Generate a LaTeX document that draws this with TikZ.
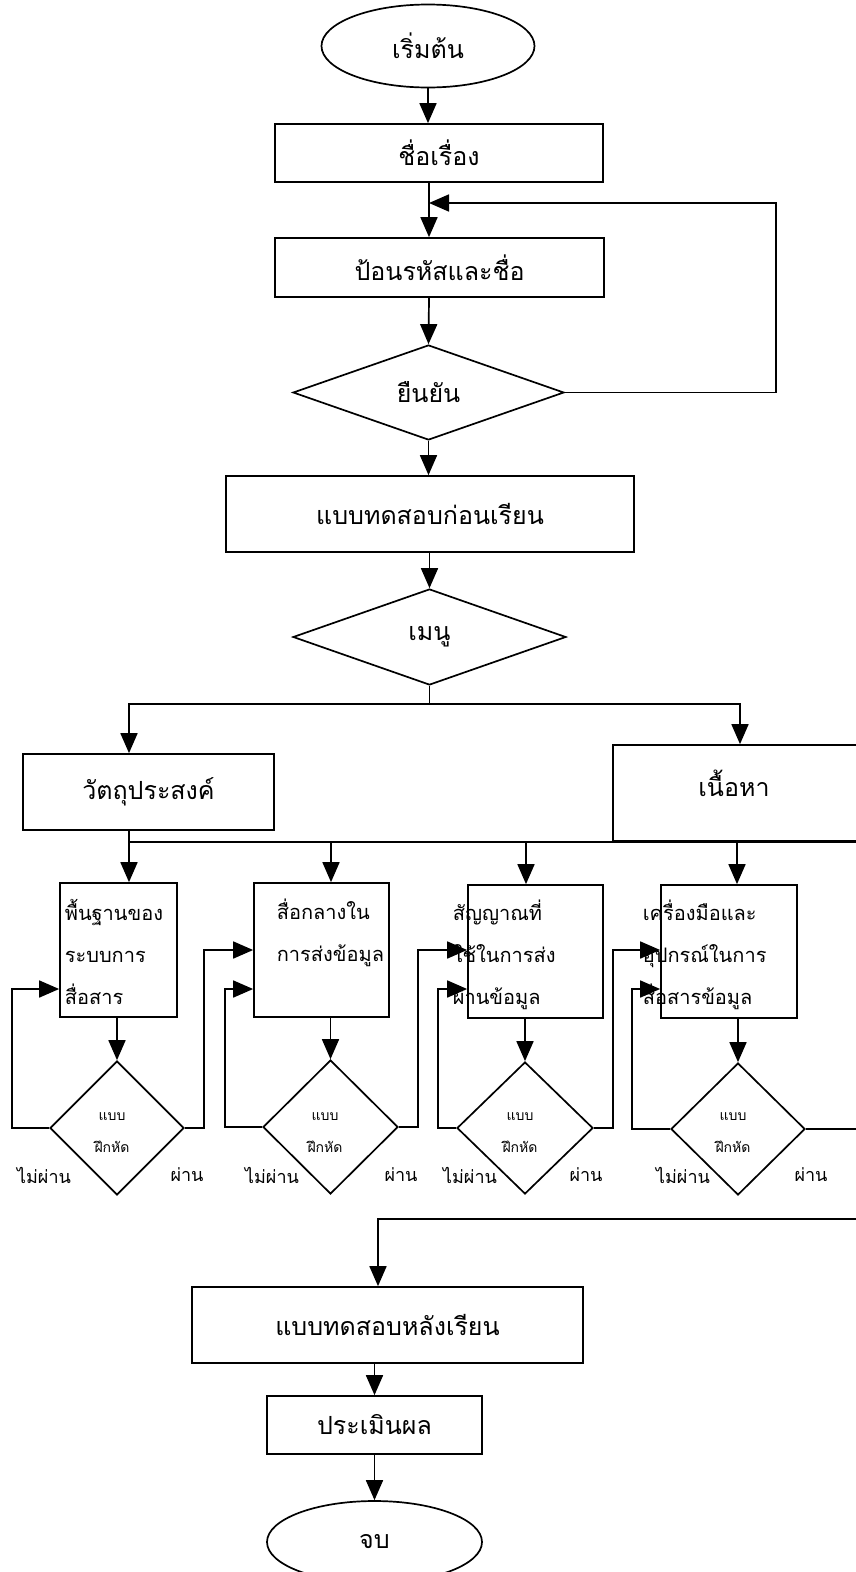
\documentclass[tikz,border=0pt]{standalone}
\usepackage{fontspec}
\newfontfamily\thai[Script=Thai]{Loma}
\usetikzlibrary{arrows.meta,shapes.geometric}

\begin{document}
\begin{tikzpicture}[x=1pt,y=-1pt,
  line width=1.7pt,
  arr/.style={-{Triangle[length=20pt,width=17pt]}},
  proc/.style={draw, rectangle, inner sep=0pt},
  term/.style={draw, ellipse, inner sep=0pt},
  dec/.style={draw, diamond, inner sep=0pt},
  big/.style={font=\thai\fontsize{25}{29}\selectfont},
  unit/.style={font=\thai\fontsize{20}{42}\selectfont, inner sep=0pt, align=left, anchor=base west},
  quiz/.style={font=\thai\fontsize{14}{32}\selectfont, align=center},
  verdict/.style={font=\thai\fontsize{18}{20}\selectfont, inner sep=0pt}]

\useasboundingbox (0,0) rectangle (856,1572);
\clip (0,0) rectangle (856,1572);
\fill[white] (0,0) rectangle (856,1572);

% main column
\node[term, minimum width=213pt, minimum height=83pt, big] (start) at (428,46) {เริ่มต้น};
\node[proc, minimum width=328pt, minimum height=58pt, big] (title) at (439,153) {ชื่อเรื่อง};
\node[proc, minimum width=329pt, minimum height=59pt, big] (login) at (439.5,267.5) {ป้อนรหัสและชื่อ};
\node[dec, minimum width=271pt, minimum height=95pt, big] (confirm) at (428.5,392.5) {ยืนยัน};
\node[proc, minimum width=408pt, minimum height=76pt, big] (pretest) at (430,514) {แบบทดสอบก่อนเรียน};
\node[dec, minimum width=273pt, minimum height=96pt, big] (menu) at (429.5,637) {เมนู};

% menu branches
\node[proc, minimum width=251pt, minimum height=76pt, big] (obj) at (148.5,792) {วัตถุประสงค์};
\node[proc, minimum width=260pt, minimum height=96pt] (content) at (743,793) {};
\node[big] (contentlbl) at (734,783) {เนื้อหา};

% lesson units
\node[proc, minimum width=117pt, minimum height=134pt] (u1) at (118.5,950) {};
\node[proc, minimum width=135pt, minimum height=134pt] (u2) at (321.5,950) {};
\node[proc, minimum width=135pt, minimum height=133pt] (u3) at (535.5,951.5) {};
\node[proc, minimum width=136pt, minimum height=133pt] (u4) at (729,951.5) {};

% exercises
\node[dec, minimum width=134pt, minimum height=134pt] (q1) at (117,1128) {};
\node[dec, minimum width=135pt, minimum height=134pt] (q2) at (330.5,1127) {};
\node[dec, minimum width=136pt, minimum height=132pt] (q3) at (525,1128) {};
\node[dec, minimum width=134pt, minimum height=132pt] (q4) at (738,1129) {};
\node[quiz] (q1t) at (112,1133) {แบบ\\ฝึกหัด};
\node[quiz] (q2t) at (325,1133) {แบบ\\ฝึกหัด};
\node[quiz] (q3t) at (520,1133) {แบบ\\ฝึกหัด};
\node[quiz] (q4t) at (733,1133) {แบบ\\ฝึกหัด};

% closing column
\node[proc, minimum width=391pt, minimum height=76pt, big] (post) at (387.5,1325) {แบบทดสอบหลังเรียน};
\node[proc, minimum width=215pt, minimum height=58pt, big] (assess) at (374.5,1425) {ประเมินผล};
\node[term, minimum width=215pt, minimum height=82pt, big] (finish) at (374.5,1542) {จบ};

% unit titles (base anchor sits on the last line)
\node[unit] (u1t) at (64,1004) {พื้นฐานของ\\ระบบการ\\สื่อสาร};
\node[unit] (u2t) at (276,961) {สื่อกลางใน\\การส่งข้อมูล};
\node[unit] (u3t) at (452,1004) {สัญญาณที่\\ใช้ในการส่ง\\ผ่านข้อมูล};
\node[unit] (u4t) at (642,1004) {เครื่องมือและ\\อุปกรณ์ในการ\\สื่อสารข้อมูล};

% verdict labels
\node[verdict] (f1) at (44,1175) {ไม่ผ่าน};
\node[verdict] (p1) at (187,1175) {ผ่าน};
\node[verdict] (f2) at (272,1175) {ไม่ผ่าน};
\node[verdict] (p2) at (401,1175) {ผ่าน};
\node[verdict] (f3) at (470,1175) {ไม่ผ่าน};
\node[verdict] (p3) at (586,1175) {ผ่าน};
\node[verdict] (f4) at (683,1175) {ไม่ผ่าน};
\node[verdict] (p4) at (811,1175) {ผ่าน};

% helper points
\coordinate (axis) at (429,0);
\coordinate (fb) at (429,203);
\coordinate (fbr) at (776,203);
\coordinate (brL) at (129,704);
\coordinate (brR) at (740,704);
\coordinate (sbL) at (129,842);
\coordinate (sbR) at (870,842);
\coordinate (a2) at (331,842);
\coordinate (a3) at (526,842);
\coordinate (a4) at (737,842);
\coordinate (L1) at (12,989);
\coordinate (L2) at (225,989);
\coordinate (L3) at (438,989);
\coordinate (L4) at (632,989);
\coordinate (P1) at (204,950);
\coordinate (P2) at (418,950);
\coordinate (P3) at (613,950);
\coordinate (out4) at (870,1129);
\coordinate (retR) at (870,1219);
\coordinate (retJ) at (378,1219);

% main flow
\draw[arr] (start.south) -- (start.south |- title.north);
\draw[arr] (axis |- title.south) -- (axis |- login.north);
\draw[arr] (axis |- login.south) -- (confirm.north);
\draw[arr] (confirm.east) -| (fbr) -- (fb);
\draw[arr] (confirm.south) -- (confirm.south |- pretest.north);
\draw[arr] (menu.north |- pretest.south) -- (menu.north);

% menu split
\draw (menu.south) -- (menu.south |- brL);
\draw[arr] (menu.south |- brL) -- (brL) -- (brL |- obj.north);
\draw[arr] (menu.south |- brR) -- (brR) -- (brR |- content.north);

% units split
\draw (sbL |- obj.south) -- (sbL) -- (sbR);
\draw[arr] (sbL) -- (sbL |- u1.north);
\draw[arr] (a2) -- (a2 |- u2.north);
\draw[arr] (a3) -- (a3 |- u3.north);
\draw[arr] (a4) -- (a4 |- u4.north);

% unit -> exercise
\draw[arr] (q1.north |- u1.south) -- (q1.north);
\draw[arr] (q2.north |- u2.south) -- (q2.north);
\draw[arr] (q3.north |- u3.south) -- (q3.north);
\draw[arr] (q4.north |- u4.south) -- (q4.north);

% fail loops
\draw[arr] (q1.west) -| (L1) -- (L1 -| u1.west);
\draw[arr] (q2.west) -| (L2) -- (L2 -| u2.west);
\draw[arr] (q3.west) -| (L3) -- (L3 -| u3.west);
\draw[arr] (q4.west) -| (L4) -- (L4 -| u4.west);

% pass links
\draw[arr] (q1.east) -| (P1) -- (P1 -| u2.west);
\draw[arr] (q2.east) -| (P2) -- (P2 -| u3.west);
\draw[arr] (q3.east) -| (P3) -- (P3 -| u4.west);
\draw (q4.east) -- (q4.east -| out4);

% closing
\draw[arr] (retR) -- (retJ) -- (retJ |- post.north);
\draw[arr] (assess.north |- post.south) -- (assess.north);
\draw[arr] (assess.south) -- (finish.north);
\end{tikzpicture}
\end{document}
